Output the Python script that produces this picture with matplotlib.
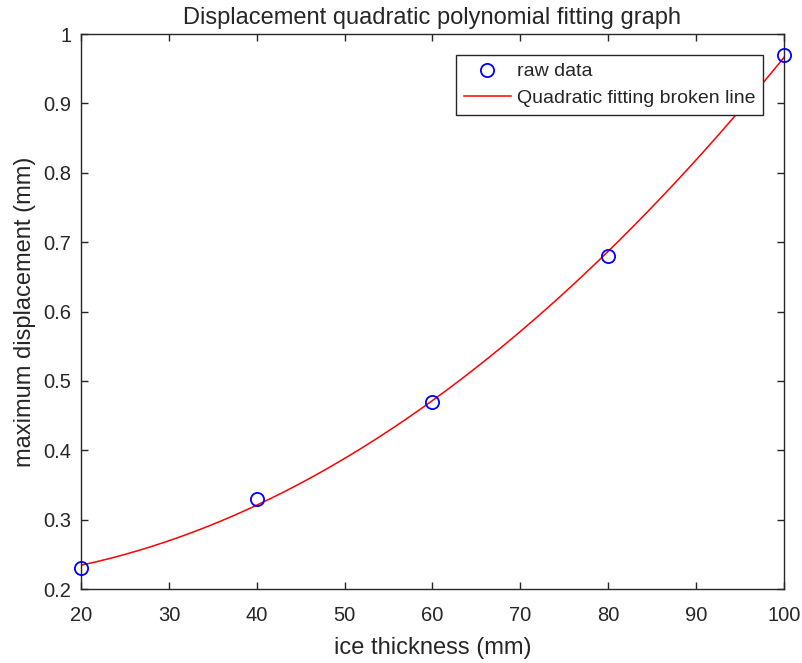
import numpy as np
import matplotlib.pyplot as plt

plt.rcParams['font.family'] = ['Liberation Sans', 'DejaVu Sans']

# raw measurements
ice_thickness = [20, 40, 60, 80, 100]
max_displacement = [0.23, 0.33, 0.47, 0.68, 0.97]

# quadratic fit of the raw data
coef = np.polyfit(ice_thickness, max_displacement, 2)
x_fit = np.linspace(20, 100, 200)
y_fit = np.polyval(coef, x_fit)

txt = '#262626'

fig = plt.figure(figsize=(8.03, 6.63), dpi=100)
ax = fig.add_axes([0.1009, 0.1116, 0.8754, 0.8371])

ax.plot(ice_thickness, max_displacement, 'o', mfc='none', mec='#0000ff', ms=9.5,
        mew=1.3, label='raw data', clip_on=False, zorder=3)
ax.plot(x_fit, y_fit, '-', color='#ff0000', lw=1.1, label='Quadratic fitting broken line')

ax.set_xlim(20, 100)
ax.set_ylim(0.2, 1.0)
ax.set_xticks(range(20, 101, 10))
ax.set_yticks(np.arange(0.2, 1.01, 0.1))
ax.set_yticklabels(['0.2', '0.3', '0.4', '0.5', '0.6', '0.7', '0.8', '0.9', '1'])

ax.tick_params(direction='in', top=True, right=True, length=5, width=1.0,
               labelsize=14.5, colors=txt)
ax.tick_params(axis='x', pad=12)
ax.tick_params(axis='y', pad=7)
for s in ax.spines.values():
    s.set_color(txt)
    s.set_linewidth(1.0)

ax.set_xlabel('ice thickness (mm)', fontsize=17, color=txt, labelpad=9)
ax.set_ylabel('maximum displacement (mm)', fontsize=17, color=txt, labelpad=5)
ax.set_title('Displacement quadratic polynomial fitting graph', fontsize=17, color=txt, pad=7)

leg = ax.legend(loc='upper right', bbox_to_anchor=(0.970, 0.962), fontsize=14,
                frameon=True, fancybox=False, edgecolor=txt, framealpha=1,
                handlelength=2.4, handletextpad=0.3, borderpad=0.4, labelspacing=0.45,
                borderaxespad=0)
leg.get_frame().set_linewidth(1.0)
for t in leg.get_texts():
    t.set_color(txt)

fig.savefig('out.png', dpi=100)
